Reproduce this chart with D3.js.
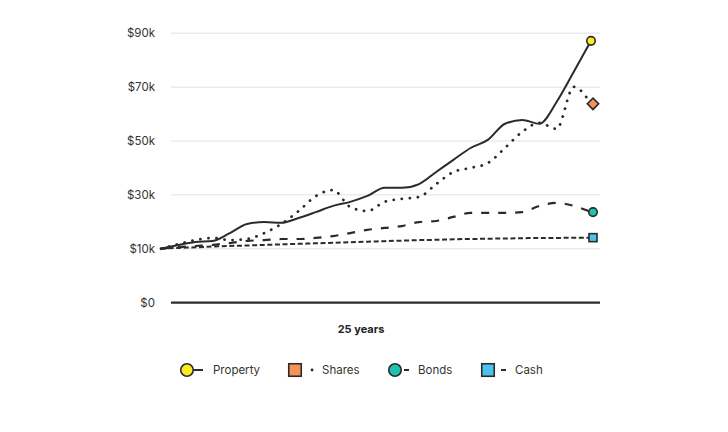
<!DOCTYPE html>
<html>
<head>
<meta charset="utf-8">
<script src="https://cdn.jsdelivr.net/npm/d3@7"></script>
<style>
  html, body { margin: 0; padding: 0; background: #fff; }
  svg { display: block; font-family: "Inter", "Roboto", "Liberation Sans", sans-serif; }
</style>
</head>
<body>
<svg id="chart" width="728" height="432"></svg>
<script>
const years = d3.range(0, 26);
const property = [10, 11.4, 12.5, 12.9, 15.8, 19.2, 19.9, 19.6, 21.4, 23.6, 25.9, 27.4, 29.6, 32.6, 32.6, 34.0, 38.5, 43.0, 47.4, 50.4, 56.4, 57.8, 56.4, 64.5, 75.7, 87.2];
const shares   = [10, 11.7, 13.2, 14.0, 13.2, 13.6, 15.8, 19.2, 24.0, 29.5, 31.8, 25.5, 24.0, 27.4, 28.5, 29.2, 34.0, 38.5, 40.0, 41.8, 47.4, 53.4, 56.7, 54.5, 70.1, 63.8];
const bonds    = [10, 10.6, 11.0, 11.4, 12.1, 12.9, 13.2, 13.6, 13.6, 14.0, 14.7, 15.8, 17.0, 17.7, 18.4, 19.9, 20.3, 21.8, 23.3, 23.3, 23.3, 23.6, 25.9, 27.0, 25.9, 23.6];
const cash     = [10, 10.3, 10.5, 10.8, 11.0, 11.2, 11.4, 11.6, 11.8, 12.0, 12.2, 12.4, 12.6, 12.8, 13.0, 13.2, 13.3, 13.5, 13.6, 13.7, 13.8, 13.9, 14.0, 14.0, 14.1, 14.1];
const seriesNames = ["Property", "Shares", "Bonds", "Cash"];
const yTicks = [0, 10, 30, 50, 70, 90];
const yTickLabels = ["$0", "$10k", "$30k", "$50k", "$70k", "$90k"];
const xLabel = "25 years";

const svg = d3.select("#chart");
const ink = "#2b2b2b";

const x = d3.scaleLinear().domain([0, 25]).range([161, 591]);
const y = d3.scaleLinear().domain([0, 10, 90]).range([302.7, 248.7, 33.3]);

// gridlines
svg.append("g").selectAll("line")
  .data(yTicks.filter(t => t !== 0))
  .join("line")
  .attr("x1", 171).attr("x2", 600)
  .attr("y1", d => y(d)).attr("y2", d => y(d))
  .attr("stroke", "#ececec").attr("stroke-width", 1.5);

// baseline
svg.append("line")
  .attr("x1", 171).attr("x2", 600)
  .attr("y1", y(0)).attr("y2", y(0))
  .attr("stroke", ink).attr("stroke-width", 2.2);

// y axis labels via d3 axis
const yAxis = d3.axisLeft(y).tickValues(yTicks)
  .tickFormat((d, i) => yTickLabels[i]).tickSize(0).tickPadding(0);
const yg = svg.append("g").attr("transform", "translate(155,0)").call(yAxis);
yg.select(".domain").remove();
yg.selectAll("text").attr("font-size", 11.5).attr("fill", "#333")
  .attr("font-family", "Inter, Roboto, sans-serif");

// x label
svg.append("text").attr("x", 361).attr("y", 333).attr("text-anchor", "middle")
  .attr("font-size", 11).attr("font-weight", 700).attr("fill", "#222").text(xLabel);

const styles = {
  Property: { data: property, dash: null, cap: "round", w: 2, color: "#fbec22", shape: "circle" },
  Shares:   { data: shares, dash: "0.1 8", cap: "round", w: 2.8, color: "#f5925c", shape: "diamond" },
  Bonds:    { data: bonds, dash: "8 9", cap: "butt", w: 2.2, color: "#1fc2ad", shape: "circle" },
  Cash:     { data: cash, dash: "5 2.6", cap: "butt", w: 2, color: "#4fc1ef", shape: "square" }
};

const line = d3.line().x((d, i) => x(years[i])).y(d => y(d)).curve(d3.curveMonotoneX);

["Cash", "Bonds", "Shares", "Property"].forEach(name => {
  const s = styles[name];
  svg.append("path")
    .datum(s.data)
    .attr("d", line)
    .attr("fill", "none")
    .attr("stroke", ink)
    .attr("stroke-width", s.w)
    .attr("stroke-linecap", s.cap)
    .attr("stroke-linejoin", "round")
    .attr("stroke-dasharray", s.dash);
});

function drawShape(g, shape, cx, cy, size, fill) {
  if (shape === "circle") {
    g.append("circle").attr("cx", cx).attr("cy", cy).attr("r", size / 2)
      .attr("fill", fill).attr("stroke", ink).attr("stroke-width", 1.6);
  } else if (shape === "square") {
    g.append("rect").attr("x", cx - size / 2).attr("y", cy - size / 2)
      .attr("width", size).attr("height", size)
      .attr("fill", fill).attr("stroke", ink).attr("stroke-width", 1.6);
  } else if (shape === "diamond") {
    g.append("rect").attr("x", -size / 2).attr("y", -size / 2)
      .attr("width", size).attr("height", size)
      .attr("transform", `translate(${cx},${cy}) rotate(45)`)
      .attr("fill", fill).attr("stroke", ink).attr("stroke-width", 1.6);
  }
}

// end markers
const mg = svg.append("g");
seriesNames.forEach(name => {
  const s = styles[name];
  const last = s.data[s.data.length - 1];
  const xoff = name === "Property" ? 0 : 2;
  const size = s.shape === "circle" ? 8.5 : 8;
  drawShape(mg, s.shape, x(25) + xoff, y(last), size, s.color);
});

// legend
const legendItems = [
  { name: "Property", cx: 187, shape: "circle", sample: [193, 203], text: 213 },
  { name: "Shares",   cx: 295, shape: "square", sample: [312, 312.1], text: 322 },
  { name: "Bonds",    cx: 395, shape: "circle", sample: [404, 409], text: 418 },
  { name: "Cash",     cx: 488, shape: "square", sample: [501, 506], text: 515 }
];
const lg = svg.append("g");
const ly = 370;
legendItems.forEach(it => {
  const s = styles[it.name];
  lg.append("line").attr("x1", it.name === "Property" ? it.cx : it.sample[0]).attr("x2", it.sample[1])
    .attr("y1", ly).attr("y2", ly).attr("stroke", ink)
    .attr("stroke-width", it.name === "Shares" ? 2.8 : 2)
    .attr("stroke-linecap", it.name === "Shares" ? "round" : "butt");
  drawShape(lg, it.shape, it.cx, ly, 12.5, s.color);
  lg.append("text").attr("x", it.text).attr("y", ly + 4)
    .attr("font-size", 11.5).attr("fill", "#333").text(it.name);
});
</script>
</body>
</html>
